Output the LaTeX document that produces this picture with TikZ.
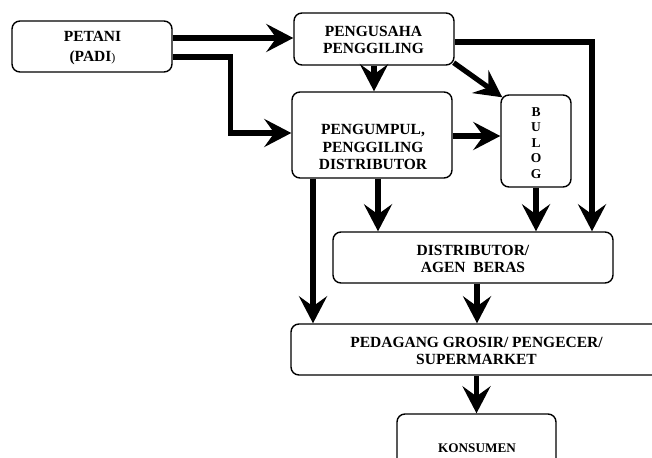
\documentclass[tikz,border=0pt]{standalone}
\usepackage{fontspec}
\setmainfont{Liberation Serif}
\usetikzlibrary{arrows.meta,calc}
\tikzset{
  box/.style={draw, line width=1.4pt, rounded corners=8pt, inner sep=0pt, fill=white},
  lbl/.style={align=center, inner sep=0pt, font=\fontsize{15.5}{17.3}\selectfont\bfseries},
  flow/.style={line width=5.2pt, -{Stealth[length=27pt,width=28pt,inset=10pt]}},
}
\begin{document}
\begin{tikzpicture}[x=1pt,y=-1pt]
\fill[white] (0,0) rectangle (652,457);
\useasboundingbox (0,0) rectangle (652,457);
\clip (0,0) rectangle (652,457);
% boxes
\node[box, minimum width=160pt, minimum height=51pt] (petani) at (92,46.5) {};
\node[box, minimum width=160pt, minimum height=52pt] (pengusaha) at (374,39) {};
\node[box, minimum width=160pt, minimum height=86pt] (pengumpul) at (372,135) {};
\node[box, minimum width=70pt, minimum height=92pt] (bulog) at (536,141) {};
\node[box, minimum width=280pt, minimum height=51pt] (agen) at (473,257.5) {};
\node[box, minimum width=371pt, minimum height=51pt] (pedagang) at (476.5,349.5) {};
\node[box, minimum width=159pt, minimum height=68pt] (konsumen) at (476.5,448) {};
% texts
\node[lbl] (petanit) at (92.5,48) {PETANI\\[2.7pt](PADI{\fontsize{12}{14}\selectfont\mdseries )}};
\node[lbl] (pengusahat) at (373.5,40) {PENGUSAHA\\PENGGILING};
\node[lbl] (pengumpult) at (373,147) {PENGUMPUL,\\PENGGILING\\DISTRIBUTOR};
\node[lbl, font=\fontsize{13.5}{15.5}\selectfont\bfseries] (bulogt) at (536,143) {B\\U\\L\\O\\G};
\node[lbl] (agent) at (473,259) {DISTRIBUTOR/\\AGEN\ \ BERAS};
\node[lbl] (pedagangt) at (476.5,351) {PEDAGANG GROSIR/ PENGECER/\\SUPERMARKET};
\node[lbl, font=\fontsize{13.2}{15}\selectfont\bfseries] (konsument) at (477,448) {KONSUMEN};
% connectors
\draw[flow] ([yshift=8.5pt]petani.east) -- ([yshift=1pt]pengusaha.west);
\draw[flow] ([yshift=-10.5pt]petani.east) -- ++(58,0) |- ([yshift=2pt]pengumpul.west);
\draw[flow] (pengusaha.south) -- (pengusaha.south |- pengumpul.north);
\draw[flow] ([xshift=-1pt,yshift=3pt]pengusaha.south east) -- ([xshift=2pt,yshift=-3pt]bulog.north west);
\draw[flow] ([yshift=-3pt]pengusaha.east) -| ([xshift=119pt]agen.north);
\draw[flow] ([yshift=-1pt]pengumpul.east) -- ([yshift=-1pt]pengumpul.east -| bulog.west);
\draw[flow] ([xshift=6pt]pengumpul.south) -- ([xshift=6pt]pengumpul.south |- agen.north);
\draw[flow] ([xshift=-59pt]pengumpul.south) -- ([xshift=-59pt]pengumpul.south |- pedagang.north);
\draw[flow] (bulog.south) -- (bulog.south |- agen.north);
\draw[flow] ([xshift=4pt]agen.south) -- ([xshift=4pt]agen.south |- pedagang.north);
\draw[flow] (konsumen.north |- pedagang.south) -- (konsumen.north);
\end{tikzpicture}
\end{document}
